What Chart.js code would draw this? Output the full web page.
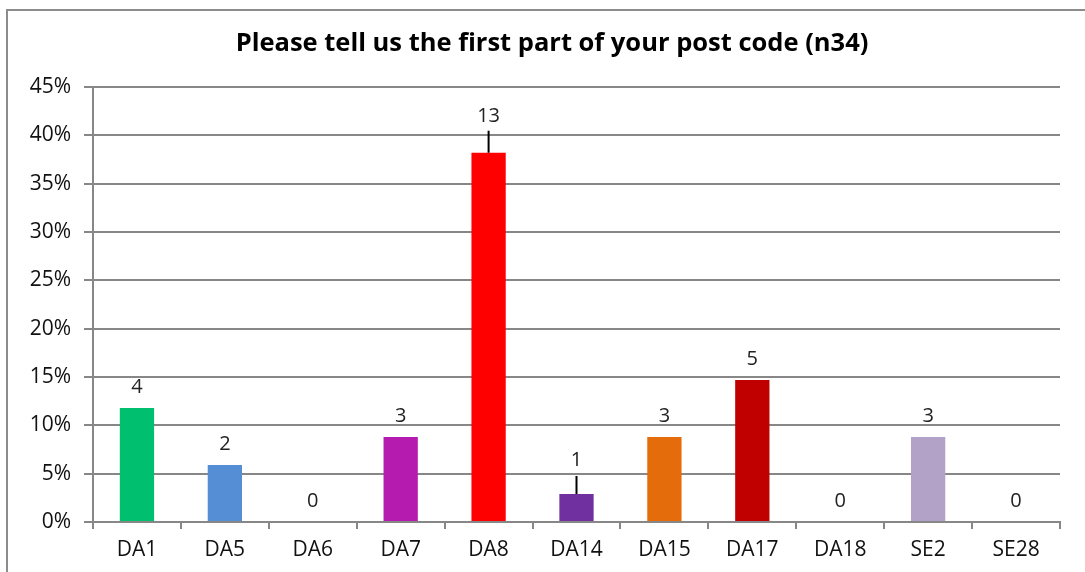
<!DOCTYPE html>
<html>
<head>
<meta charset="utf-8">
<script src="https://cdn.jsdelivr.net/npm/chart.js@4"></script>
<style>
  html, body { margin: 0; padding: 0; background: #fff; }
</style>
</head>
<body>
<canvas id="myChart" width="1085" height="572"></canvas>
<script>
// values
let categories = ['DA1', 'DA5', 'DA6', 'DA7', 'DA8', 'DA14', 'DA15', 'DA17', 'DA18', 'SE2', 'SE28'];
let counts = [4, 2, 0, 3, 13, 1, 3, 5, 0, 3, 0];
let percents = [11.8, 5.9, 0, 8.8, 38.2, 2.9, 8.8, 14.7, 0, 8.8, 0];
let barColors = ['#00BF6F', '#558ED5', '#FFFFFF', '#B61BAF', '#FF0000', '#7030A0',
                 '#E46C0A', '#C00000', '#FFFFFF', '#B3A2C7', '#FFFFFF'];
let yTicks = [0, 5, 10, 15, 20, 25, 30, 35, 40, 45];
let titleText = 'Please tell us the first part of your post code (n34)';

const tickFont = { family: 'Open Sans', size: 21 };
const gridColor = '#878787';

// frame, title, and count labels (with leader lines on DA8 / DA14)
const extras = {
    id: 'extras',
    beforeDraw(chart) {
        let c = chart.ctx;
        c.save();
        c.strokeStyle = '#8c8c8c';
        c.lineWidth = 2;
        c.beginPath();
        c.moveTo(7, 572);
        c.lineTo(7, 10);
        c.lineTo(1085, 10);
        c.stroke();
        c.font = 'bold 25.5px "Open Sans"';
        c.fillStyle = '#000';
        c.textAlign = 'center';
        c.textBaseline = 'middle';
        c.fillText(titleText, 552, 44);
        c.restore();
    },
    afterDatasetsDraw(chart) {
        let c = chart.ctx;
        let meta = chart.getDatasetMeta(0);
        // index: [label offset, leader line length]
        let leaders = { 4: [36, 22], 5: [34, 18] };
        c.save();
        c.font = '20px "Open Sans"';
        c.fillStyle = '#222';
        c.textAlign = 'center';
        c.textBaseline = 'middle';
        meta.data.forEach((bar, i) => {
            let x = bar.x;
            let y = bar.y;
            if (leaders[i]) {
                c.strokeStyle = '#000';
                c.lineWidth = 2;
                c.beginPath();
                c.moveTo(x, y);
                c.lineTo(x, y - leaders[i][1]);
                c.stroke();
                c.fillText(String(counts[i]), x, y - leaders[i][0]);
            } else {
                c.fillText(String(counts[i]), x, y - 21);
            }
        });
        c.restore();
    }
};

let ctx = document.getElementById('myChart').getContext('2d');
let chart = new Chart(ctx, {
    type: 'bar',
    data: {
        labels: categories,
        datasets: [{
            data: percents,
            backgroundColor: barColors,
            barPercentage: 0.39,
            categoryPercentage: 1
        }]
    },
    plugins: [extras],
    options: {
        responsive: false,
        animation: false,
        layout: { padding: { left: 0, right: 25, top: 87, bottom: 0 } },
        plugins: {
            legend: { display: false },
            tooltip: { enabled: false },
            title: { display: false }
        },
        scales: {
            x: {
                grid: {
                    offset: true,
                    drawOnChartArea: false,
                    color: gridColor,
                    lineWidth: 2,
                    tickLength: 7
                },
                border: { color: gridColor, width: 2 },
                ticks: { font: tickFont, color: '#111', padding: 8 },
                afterFit(scale) { scale.height = 50; }
            },
            y: {
                min: 0,
                max: 45,
                afterBuildTicks(scale) {
                    scale.ticks = yTicks.map(v => ({ value: v }));
                },
                grid: {
                    color: gridColor,
                    lineWidth: 2,
                    tickLength: 9
                },
                border: { color: gridColor, width: 2 },
                ticks: {
                    font: tickFont,
                    color: '#111',
                    padding: 13,
                    callback: v => v + '%'
                },
                afterFit(scale) { scale.width = 93; }
            }
        }
    }
});
</script>
</body>
</html>
